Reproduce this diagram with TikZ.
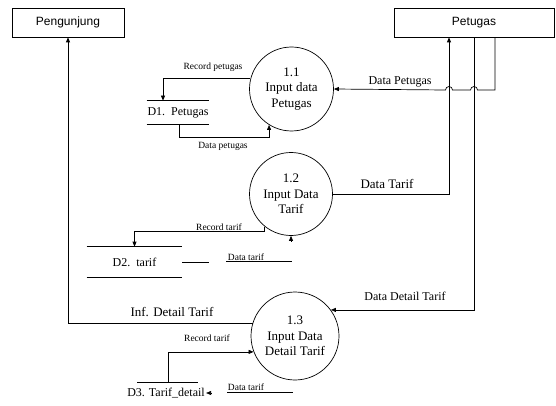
\documentclass[tikz,border=0pt]{standalone}
\usepackage{fontspec}
\setmainfont{Liberation Serif}
\newfontfamily\boxfont{Liberation Sans}
\usetikzlibrary{arrows.meta,calc}
\begin{document}
\begin{tikzpicture}[x=1pt,y=-1pt,
  line width=0.7pt,
  flow/.style={-{Triangle[length=5pt,width=4pt]}},
  entity/.style={draw,rectangle,inner sep=0pt,font=\boxfont\fontsize{12}{14}\selectfont},
  proc/.style={draw,circle,inner sep=0pt,align=center,font=\fontsize{13}{15.5}\selectfont},
  store/.style={inner sep=0pt,font=\fontsize{12}{14}\selectfont},
  small/.style={inner sep=0pt,font=\fontsize{9.5}{11}\selectfont},
  big/.style={inner sep=0pt,font=\fontsize{13}{15}\selectfont},
  mid/.style={inner sep=0pt,font=\fontsize{12}{14}\selectfont}]
\useasboundingbox (0,0) rectangle (556,406);

% entities
\node[entity,minimum width=112pt,minimum height=29pt] (peng) at (68,22.5) {Pengunjung};
\node[entity,minimum width=160pt,minimum height=29pt] (pet) at (474,22.5) {Petugas};

% processes
\node[proc,minimum size=84pt] (p11) at (291.5,89) {1.1\\Input data\\Petugas};
\node[proc,minimum size=83pt] (p12) at (291,194) {1.2\\Input Data\\Tarif};
\node[proc,minimum size=88pt] (p13) at (295,336) {1.3\\Input Data\\Detail Tarif};

% data stores
\node[store,minimum width=62pt,minimum height=23pt] (d1) at (178,112.5) {D1.\ \ Petugas};
\draw (d1.north west) -- (d1.north east) (d1.south west) -- (d1.south east);
\node[store,minimum width=95pt,minimum height=30pt] (d2) at (134.5,262) {D2.\ \ tarif\hspace{9pt}};
\draw (d2.north west) -- (d2.north east) (d2.south west) -- (d2.south east);
\coordinate (d3l) at (137,382);
\coordinate (d3r) at (198,382);
\coordinate (d3top) at (168,382);
\draw (d3l) -- (d3r);
\node[store] (d3) at (166,393) {D3. Tarif\_detail};

% petugas connection points
\coordinate (pa) at ([xshift=-25pt]pet.south);
\coordinate (pb) at ([xshift=21pt]pet.south);

% Data Petugas (with hops)
\draw[flow] (pb) -- (495,90) -- (477.5,90) arc[start angle=0,end angle=-180,radius=3.5]
  -- (452.5,90) arc[start angle=0,end angle=-180,radius=3.5] -- (p11.east);
\node[mid] (lDP) at (400,82) {Data Petugas};

% Data Tarif
\draw[flow] (p12.east) -| (pa);
\node[big] (lDT) at (387,184) {Data Tarif};

% Data Detail Tarif
\draw[flow] (pet.south) |- (p13.36);
\node[mid] (lDDT) at (405,296) {Data Detail Tarif};

% Inf. Detail Tarif
\draw[flow] (p13.163) -| (peng.south);
\node[big] (lIDT) at (172,312) {Inf. Detail Tarif};

% Record petugas
\draw[flow] (p11.166) -| (d1.north -| 163,0);
\node[small] (lRP) at (213,67) {Record petugas};

% Data petugas
\draw[flow] ([xshift=1pt]d1.south) -- ++(0,13) -| (p11.238);
\node[small] (ldp) at (223,146) {Data petugas};

% Record tarif (1.2)
\draw[flow] (p12.231) |- ($(d2.north)+(0,-15)$) -- (d2.north);
\node[small] (lRT1) at (219,227) {Record tarif};

% Data tarif (1.2) broken flow
\draw (d2.east) -- ++(27,0);
\draw (226,261.5) -- (292,261.5);
\node[small] (lDt1) at (246,257) {Data tarif};
\draw[flow] ($(p12.south)+(0,5)$) -- (p12.south);

% Record tarif (1.3)
\draw[flow] (d3top) |- (p13.201);
\node[small] (lRT2) at (207,338) {Record tarif};

% Data tarif (1.3)
\draw (227,392.5) -- (293,392.5);
\node[small] (lDt2) at (246,387) {Data tarif};
\draw[flow] ([xshift=6pt]d3.east) -- ([xshift=1pt]d3.east);
\end{tikzpicture}
\end{document}
